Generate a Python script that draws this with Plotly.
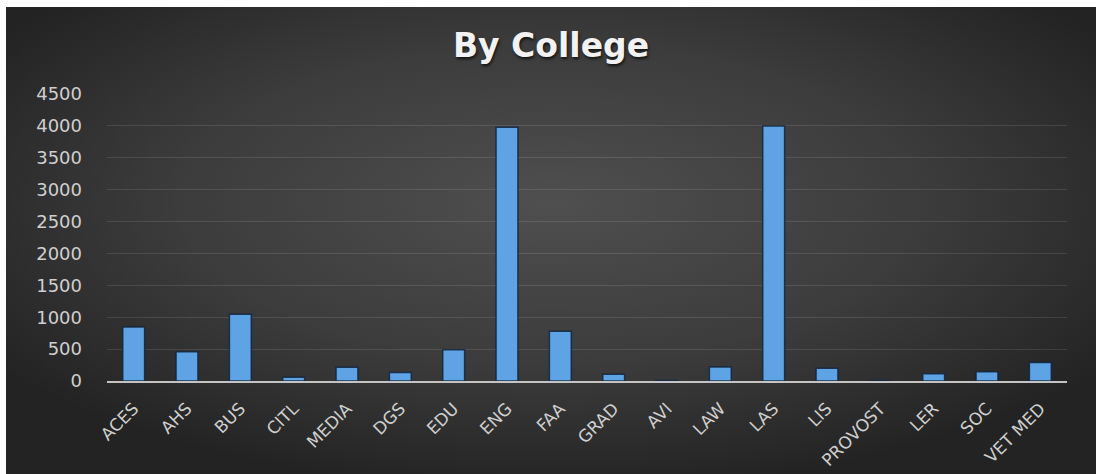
import base64
import plotly.graph_objects as go

# Enrollment count per college
colleges = ["ACES", "AHS", "BUS", "CITL", "MEDIA", "DGS", "EDU", "ENG", "FAA",
            "GRAD", "AVI", "LAW", "LAS", "LIS", "PROVOST", "LER", "SOC", "VET MED"]
counts = [845, 460, 1045, 60, 215, 135, 490, 3980, 780,
          105, 6, 220, 4000, 200, 4, 115, 145, 290]
y_ticks = [0, 500, 1000, 1500, 2000, 2500, 3000, 3500, 4000, 4500]

W, H = 1096, 474
M = dict(l=107, r=29, t=94, b=93)
pw = W - M["l"] - M["r"]
ph = H - M["t"] - M["b"]

# Dark radial-gradient backdrop with a thin white frame on the top/left
svg = f"""<svg xmlns='http://www.w3.org/2000/svg' width='{W}' height='{H}' viewBox='0 0 {W} {H}' preserveAspectRatio='none'>
<defs><radialGradient id='g' cx='0.5' cy='0.42' r='0.62'>
<stop offset='0' stop-color='#4f4f4f'/><stop offset='0.55' stop-color='#3c3c3c'/><stop offset='1' stop-color='#232323'/>
</radialGradient></defs>
<rect x='0' y='0' width='{W}' height='{H}' fill='#ffffff'/>
<rect x='6' y='7' width='{W-6}' height='{H-7}' fill='url(#g)'/>
</svg>"""
bg_src = "data:image/svg+xml;base64," + base64.b64encode(svg.encode()).decode()

fig = go.Figure(
    go.Bar(
        x=colleges,
        y=counts,
        marker=dict(color="#5ea3e4", line=dict(color="rgba(18,36,62,0.85)", width=1.5)),
    )
)

fig.update_layout(
    width=W,
    height=H,
    margin=M,
    paper_bgcolor="white",
    plot_bgcolor="rgba(0,0,0,0)",
    bargap=0.59,
    showlegend=False,
    title=dict(
        text="<b>By College</b>",
        x=551 / W,
        xref="container",
        xanchor="center",
        y=1 - 45 / H,
        yref="container",
        yanchor="middle",
        font=dict(family="DejaVu Sans", size=33, color="#f2f2f2",
                  shadow="1px 2px 3px rgba(0,0,0,0.7)"),
    ),
    images=[dict(
        source=bg_src,
        xref="paper", yref="paper",
        x=-M["l"] / pw, y=1 + M["t"] / ph,
        sizex=W / pw, sizey=H / ph,
        xanchor="left", yanchor="top",
        sizing="stretch",
        layer="below",
    )],
)

fig.update_yaxes(
    range=[0, 4500],
    tickvals=y_ticks,
    automargin=False,
    showgrid=True,
    gridcolor="rgba(255,255,255,0.11)",
    gridwidth=1,
    zeroline=False,
    showline=False,
    ticks="",
    ticklabelstandoff=24,
    tickfont=dict(family="DejaVu Sans", size=18, color="#cfcfcf"),
)

fig.update_xaxes(
    tickangle=-45,
    automargin=False,
    showgrid=False,
    showline=True,
    linecolor="#c4c4c4",
    linewidth=2,
    ticks="",
    ticklabelstandoff=9,
    tickfont=dict(family="DejaVu Sans", size=17, color="#cfcfcf"),
)

fig.write_html("out.html")
